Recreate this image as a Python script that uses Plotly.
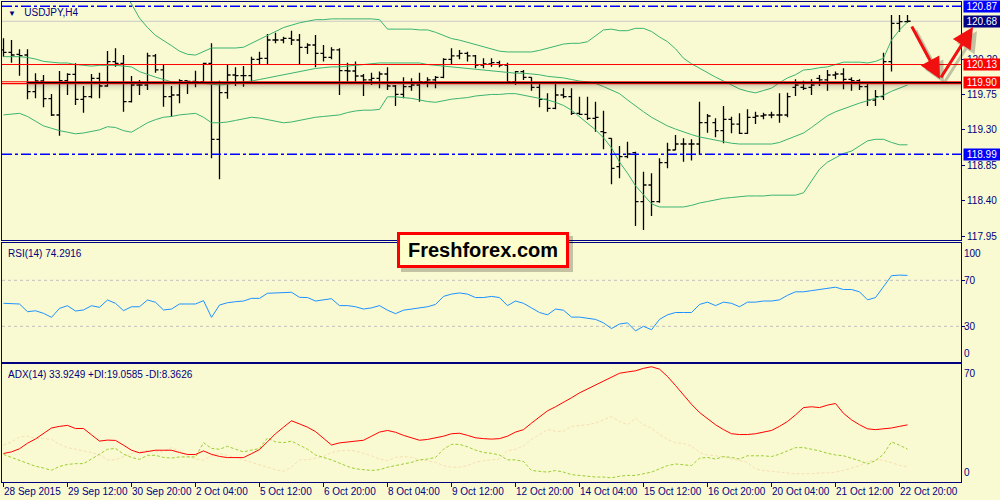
import plotly.graph_objects as go

# ---------------- data ----------------
time_labels = ["28 Sep 2015", "29 Sep 12:00", "30 Sep 20:00", "2 Oct 04:00", "5 Oct 12:00",
               "6 Oct 20:00", "8 Oct 04:00", "9 Oct 12:00", "12 Oct 20:00", "14 Oct 04:00",
               "15 Oct 12:00", "16 Oct 20:00", "20 Oct 04:00", "21 Oct 12:00", "22 Oct 20:00"]
label_bars = [0, 8, 16, 24, 32, 40, 48, 56, 64, 72, 80, 88, 96, 104, 112]

open_ = [120.315, 120.285, 120.260, 120.251, 119.785, 119.921, 119.696, 119.489, 119.925, 120.006,
         119.688, 119.722, 119.955, 119.857, 120.167, 120.145, 119.658, 119.870, 119.870, 120.239,
         120.061, 119.722, 119.743, 119.925, 119.917, 119.912, 120.145, 119.180, 119.773, 119.997,
         119.989, 119.989, 120.196, 120.209, 120.442, 120.442, 120.463, 120.442, 120.349, 120.378,
         120.272, 120.222, 120.315, 120.052, 120.048, 119.984, 119.934, 119.955, 120.010, 119.857,
         119.752, 119.849, 119.870, 119.912, 119.934, 119.968, 120.196, 120.239, 120.272, 120.239,
         120.124, 120.137, 120.154, 120.124, 119.912, 120.040, 119.968, 119.840, 119.688, 119.574,
         119.743, 119.722, 119.510, 119.497, 119.447, 119.277, 119.192, 118.832, 118.959, 119.010,
         118.388, 118.599, 118.388, 118.883, 119.044, 119.120, 119.120, 119.120, 119.391, 119.391,
         119.290, 119.434, 119.374, 119.256, 119.459, 119.476, 119.489, 119.489, 119.489, 119.840,
         119.840, 119.840, 119.955, 119.934, 119.997, 120.010, 119.942, 119.925, 119.849, 119.679,
         119.722, 120.167, 120.654, 120.675]
high = [120.463, 120.442, 120.323, 120.323, 120.018, 119.997, 119.756, 120.048, 120.018, 120.145,
        119.857, 120.010, 120.027, 120.302, 120.336, 120.251, 119.984, 119.934, 120.281, 120.264,
        120.133, 119.857, 119.942, 119.925, 120.052, 120.154, 120.400, 119.925, 120.124, 120.095,
        120.112, 120.230, 120.294, 120.518, 120.535, 120.484, 120.560, 120.518, 120.400, 120.505,
        120.378, 120.349, 120.336, 120.154, 120.167, 120.010, 120.027, 120.040, 120.095, 119.870,
        119.968, 119.955, 120.027, 119.968, 119.984, 120.209, 120.336, 120.315, 120.294, 120.251,
        120.209, 120.209, 120.179, 120.154, 120.048, 120.061, 119.968, 119.883, 119.764, 119.912,
        119.828, 119.828, 119.722, 119.722, 119.658, 119.544, 119.192, 119.095, 119.150, 119.023,
        118.769, 118.748, 118.938, 119.137, 119.235, 119.192, 119.180, 119.658, 119.502, 119.447,
        119.603, 119.468, 119.510, 119.561, 119.531, 119.518, 119.531, 119.764, 119.773, 119.942,
        119.925, 119.942, 119.997, 120.061, 120.040, 120.082, 119.968, 119.942, 119.891, 119.807,
        120.281, 120.759, 120.759, 120.759]
low = [120.230, 120.154, 119.989, 119.688, 119.701, 119.586, 119.476, 119.226, 119.743, 119.616,
       119.518, 119.701, 119.701, 119.849, 120.103, 119.531, 119.646, 119.743, 119.807, 120.027,
       119.595, 119.468, 119.637, 119.756, 119.840, 119.912, 118.938, 118.671, 119.696, 119.857,
       119.849, 119.904, 120.137, 120.133, 120.400, 120.400, 120.378, 120.124, 120.264, 120.095,
       120.167, 120.196, 119.743, 119.912, 119.912, 119.730, 119.870, 119.828, 119.807, 119.603,
       119.701, 119.798, 119.658, 119.840, 119.828, 119.955, 120.124, 120.196, 120.167, 120.082,
       120.082, 120.103, 120.095, 119.883, 119.870, 119.934, 119.798, 119.586, 119.531, 119.561,
       119.701, 119.489, 119.489, 119.425, 119.277, 119.053, 118.608, 118.684, 118.938, 118.078,
       118.028, 118.206, 118.375, 118.811, 119.044, 118.896, 118.909, 118.981, 119.264, 119.205,
       119.129, 119.256, 119.247, 119.247, 119.374, 119.434, 119.447, 119.391, 119.459, 119.730,
       119.807, 119.743, 119.857, 119.798, 119.942, 119.815, 119.798, 119.807, 119.603, 119.603,
       119.679, 120.040, 120.548, 120.662]
close = [120.285, 120.251, 120.243, 119.785, 119.921, 119.696, 119.489, 119.925, 120.006, 119.688,
         119.722, 119.955, 119.857, 120.167, 120.145, 119.658, 119.870, 119.870, 120.239, 120.061,
         119.722, 119.743, 119.925, 119.917, 119.912, 120.145, 119.180, 119.773, 119.997, 119.989,
         119.989, 120.196, 120.209, 120.442, 120.442, 120.463, 120.442, 120.349, 120.378, 120.272,
         120.222, 120.315, 120.052, 120.048, 119.984, 119.934, 119.955, 120.010, 119.857, 119.752,
         119.849, 119.870, 119.912, 119.934, 119.968, 120.196, 120.239, 120.272, 120.239, 120.124,
         120.137, 120.154, 120.124, 119.912, 120.040, 119.968, 119.840, 119.688, 119.574, 119.743,
         119.722, 119.510, 119.497, 119.447, 119.459, 119.264, 118.811, 118.959, 118.993, 118.388,
         118.599, 118.388, 118.883, 119.044, 119.120, 119.120, 119.120, 119.391, 119.476, 119.290,
         119.434, 119.374, 119.256, 119.459, 119.476, 119.489, 119.489, 119.489, 119.722, 119.870,
         119.828, 119.870, 119.934, 119.997, 120.010, 119.942, 119.925, 119.849, 119.679, 119.722,
         120.167, 120.654, 120.675, 120.680]

bb_upper = [None] * 14 + [
    121.20, 121.05, 120.90, 120.72, 120.60, 120.50, 120.44, 120.37, 120.30, 120.26,
    120.25, 120.30, 120.34, 120.34, 120.34, 120.34, 120.35, 120.40, 120.46, 120.50,
    120.55, 120.60, 120.63, 120.66, 120.68, 120.70, 120.70, 120.71, 120.71, 120.71,
    120.71, 120.71, 120.71, 120.70, 120.58, 120.58, 120.58, 120.58, 120.57, 120.57,
    120.54, 120.50, 120.46, 120.44, 120.41, 120.38, 120.35, 120.32, 120.30, 120.29,
    120.29, 120.29, 120.29, 120.31, 120.34, 120.37, 120.39, 120.40, 120.40, 120.42,
    120.50, 120.57, 120.58, 120.56, 120.56, 120.59, 120.59, 120.55, 120.48, 120.42,
    120.33, 120.21, 120.14, 120.08, 120.03, 119.97, 119.92, 119.87, 119.82, 119.79,
    119.77, 119.80, 119.83, 119.90, 119.96, 120.00, 120.06, 120.07, 120.09, 120.10,
    120.13, 120.16, 120.16, 120.16, 120.15, 120.17, 120.21, 120.44, 120.57, 120.67]
bb_mid = [120.23, 120.23, 120.23, 120.22, 120.20, 120.17, 120.16, 120.15, 120.15, 120.13,
          120.12, 120.11, 120.12, 120.12, 120.12, 120.11, 120.10, 120.04, 120.00, 119.97,
          119.94, 119.91, 119.90, 119.90, 119.90, 119.89, 119.88, 119.87, 119.88, 119.90,
          119.91, 119.92, 119.94, 119.96, 119.98, 120.00, 120.02, 120.04, 120.06, 120.08,
          120.09, 120.10, 120.10, 120.11, 120.12, 120.13, 120.14, 120.15, 120.15, 120.15,
          120.15, 120.15, 120.15, 120.13, 120.12, 120.11, 120.10, 120.09, 120.08, 120.07,
          120.06, 120.05, 120.04, 120.03, 120.02, 120.02, 120.01, 120.00, 119.98, 119.97,
          119.96, 119.94, 119.92, 119.91, 119.89, 119.85, 119.80, 119.76, 119.68, 119.60,
          119.53, 119.46, 119.40, 119.35, 119.31, 119.27, 119.24, 119.21, 119.19, 119.17,
          119.15, 119.13, 119.12, 119.12, 119.12, 119.12, 119.12, 119.14, 119.18, 119.22,
          119.26, 119.33, 119.41, 119.48, 119.53, 119.57, 119.61, 119.64, 119.67, 119.70,
          119.74, 119.79, 119.83, 119.87]
bb_lower = [119.49, 119.50, 119.51, 119.47, 119.41, 119.35, 119.32, 119.29, 119.27, 119.25,
            119.26, 119.28, 119.30, 119.34, 119.33, 119.29, 119.27, 119.33, 119.39, 119.43,
            119.46, 119.47, 119.49, 119.50, 119.51, 119.46, 119.39, 119.39, 119.40, 119.42,
            119.44, 119.46, 119.45, 119.43, 119.41, 119.39, 119.40, 119.42, 119.44, 119.46,
            119.47, 119.48, 119.49, 119.52, 119.54, 119.55, 119.55, 119.56, 119.72, 119.72,
            119.71, 119.70, 119.68, 119.66, 119.65, 119.67, 119.69, 119.70, 119.71, 119.73,
            119.74, 119.75, 119.75, 119.76, 119.76, 119.74, 119.72, 119.70, 119.68, 119.65,
            119.61, 119.55, 119.47, 119.39, 119.30, 119.20, 119.07, 118.89, 118.75, 118.59,
            118.48, 118.36, 118.32, 118.32, 118.32, 118.32, 118.34, 118.37, 118.39, 118.41,
            118.43, 118.44, 118.45, 118.46, 118.46, 118.46, 118.47, 118.47, 118.47, 118.47,
            118.50, 118.65, 118.80, 118.89, 118.95, 119.00, 119.03, 119.10, 119.16, 119.18,
            119.18, 119.14, 119.11, 119.11]

rsi = [50.0, 50.0, 49.4, 42.7, 43.5, 41.3, 37.8, 45.6, 47.9, 43.3,
       44.2, 47.9, 46.5, 52.9, 50.0, 43.6, 47.0, 47.0, 52.9, 50.9,
       44.2, 45.0, 49.4, 49.4, 49.4, 52.3, 37.8, 48.5, 50.5, 51.4,
       52.0, 54.3, 54.3, 58.7, 58.9, 59.2, 59.6, 55.2, 55.0, 52.0,
       53.0, 54.0, 48.0, 48.0, 47.0, 45.0, 46.0, 48.0, 44.0, 41.0,
       44.0, 45.0, 46.0, 47.0, 49.0, 56.0, 58.0, 59.0, 58.0, 55.0,
       55.0, 56.0, 55.0, 48.0, 52.0, 50.0, 46.0, 42.0, 40.0, 45.0,
       44.0, 38.0, 38.0, 37.0, 36.0, 33.0, 28.0, 32.0, 33.0, 26.0,
       30.0, 27.0, 36.0, 40.0, 42.0, 42.0, 42.0, 49.0, 51.0, 48.0,
       51.0, 50.0, 47.0, 51.0, 51.0, 52.0, 52.0, 53.0, 57.0, 60.0,
       60.0, 61.0, 62.0, 63.0, 64.0, 62.0, 62.0, 60.0, 53.0, 55.0,
       65.0, 74.0, 74.5, 74.2916]

adx = [16.4, 17.4, 19.3, 22.7, 25.3, 28.7, 32.0, 33.0, 33.6, 31.7,
       31.7, 27.8, 24.0, 24.6, 24.4, 21.5, 18.4, 16.8, 17.7, 18.4,
       18.4, 18.4, 17.0, 15.8, 15.8, 18.0, 15.9, 14.6, 13.9, 13.9,
       13.9, 16.3, 18.8, 23.6, 28.5, 32.5, 36.4, 34.5, 32.5, 29.8,
       25.5, 21.6, 22.9, 23.5, 24.0, 24.5, 27.0, 29.5, 30.5, 29.4,
       27.5, 26.0, 24.5, 25.0, 25.8, 27.0, 28.5, 28.8, 27.5, 26.0,
       25.5, 25.2, 25.5, 27.0, 29.5, 31.0, 35.0, 39.0, 42.5, 45.0,
       47.5, 50.5, 53.5, 56.0, 58.5, 61.0, 63.5, 65.5, 66.3, 67.0,
       68.5, 69.5, 68.0, 63.5, 58.0, 52.0, 46.5, 41.5, 37.5, 34.0,
       31.0, 28.5, 28.0, 28.0, 28.5, 29.5, 30.5, 33.0, 36.0, 40.0,
       44.5, 45.0, 44.5, 46.0, 47.0, 41.0, 37.0, 34.0, 31.5, 31.0,
       31.5, 32.0, 33.0, 33.9249]
plus_di = [15.8, 14.0, 12.0, 10.2, 8.6, 7.5, 6.1, 8.5, 9.7, 10.2,
           10.2, 13.0, 16.0, 19.0, 19.5, 16.0, 14.0, 12.8, 15.3, 15.3,
           14.0, 13.6, 14.3, 14.3, 14.3, 23.0, 19.5, 19.0, 20.8, 19.0,
           17.4, 18.5, 19.4, 26.0, 23.5, 23.0, 24.0, 21.5, 19.0, 15.5,
           14.0, 12.5, 10.5, 8.5, 7.0, 6.5, 6.0, 6.5, 8.0, 9.0,
           10.0, 11.0, 12.5, 13.0, 14.0, 19.0, 22.0, 22.0, 20.5, 18.5,
           17.0, 16.5, 15.5, 12.5, 12.5, 11.5, 6.0, 5.5, 5.0, 6.0,
           5.0, 3.5, 3.0, 2.5, 2.0, 2.0, 1.5, 2.5, 3.0, 3.0,
           4.0, 5.0, 7.0, 9.0, 10.0, 9.5, 9.0, 13.5, 14.0, 13.0,
           14.5, 14.0, 13.0, 15.0, 15.0, 15.0, 14.5, 16.0, 18.0, 20.0,
           20.0, 19.0, 18.0, 16.5, 15.5, 15.0, 13.5, 12.0, 10.0, 12.0,
           16.0, 23.5, 21.5, 19.0585]
minus_di = [21.5, 23.5, 26.5, 27.0, 25.6, 25.6, 25.0, 22.0, 20.0, 19.0,
            18.4, 17.0, 15.5, 12.5, 12.5, 14.3, 16.4, 17.5, 18.4, 17.5,
            17.4, 20.0, 18.0, 15.0, 13.0, 12.3, 15.0, 16.4, 15.3, 14.0,
            12.5, 11.0, 9.5, 8.2, 6.5, 5.5, 8.0, 12.5, 12.5, 13.5,
            14.5, 17.0, 18.0, 18.4, 18.0, 16.5, 15.0, 13.0, 12.0, 14.0,
            14.5, 14.0, 12.5, 12.0, 11.0, 9.0, 8.0, 8.0, 9.0, 11.0,
            12.0, 12.5, 13.0, 18.0, 19.0, 21.0, 25.0, 28.0, 31.0, 30.0,
            30.0, 33.0, 33.5, 34.0, 35.0, 37.0, 39.0, 36.0, 34.0, 38.0,
            34.0, 32.0, 28.0, 25.0, 23.0, 22.5, 21.0, 17.0, 15.5, 15.0,
            14.5, 13.0, 12.0, 11.0, 7.0, 6.0, 5.5, 5.0, 4.5, 4.0,
            4.0, 4.0, 4.5, 4.5, 5.0, 6.0, 7.5, 9.0, 11.5, 12.5,
            12.3, 10.6, 9.2, 8.3626]

price_ticks = [117.95, 118.40, 118.85, 119.30, 119.75, 120.20]
bid_price = 120.68
resistance_hi = 120.87
support_lo = 118.99
red_level_1 = 120.13
red_level_2 = 119.90
rsi_levels = [30, 70]

# ---------------- style / geometry ----------------
BG = "#FAFAD2"
NAVY = "#000080"
FONT = "Liberation Sans"
W, H = 1000, 500
ML, MR, MT, MB = 2, 39, 2, 18
PW, PH = W - ML - MR, H - MT - MB


def py(p):  # pixel row -> paper y
    return (H - MB - p) / PH


def px(p):  # pixel column -> paper x
    return (p - ML) / PW


n = len(close)
xs = list(range(n))
x_range = [-0.1875, 119.6875]
main_rng = [117.9004, 120.9246]
rsi_rng = [-0.78, 102.17]
adx_rng = [-1.04, 70.98]

fig = go.Figure()
green = "#3CB371"
for band in (bb_upper, bb_mid, bb_lower):
    fig.add_trace(go.Scatter(x=xs, y=band, mode="lines", line=dict(color=green, width=1),
                             hoverinfo="skip", xaxis="x", yaxis="y"))

fig.add_trace(go.Ohlc(x=xs, open=open_, high=high, low=low, close=close,
                      increasing=dict(line=dict(color="black", width=1.3)),
                      decreasing=dict(line=dict(color="black", width=1.3)),
                      tickwidth=0.38, hoverinfo="skip", xaxis="x", yaxis="y"))

fig.add_trace(go.Scatter(x=xs, y=rsi, mode="lines", line=dict(color="#1E90FF", width=1),
                         hoverinfo="skip", xaxis="x2", yaxis="y2"))

fig.add_trace(go.Scatter(x=xs, y=minus_di, mode="lines",
                         line=dict(color="#F5DEB3", width=1, dash="3px,2px"),
                         hoverinfo="skip", xaxis="x3", yaxis="y3"))
fig.add_trace(go.Scatter(x=xs, y=plus_di, mode="lines",
                         line=dict(color="#9ACD32", width=1, dash="3px,2px"),
                         hoverinfo="skip", xaxis="x3", yaxis="y3"))
fig.add_trace(go.Scatter(x=xs, y=adx, mode="lines", line=dict(color="#FF0000", width=1),
                         hoverinfo="skip", xaxis="x3", yaxis="y3"))

base_x = dict(range=x_range, showgrid=False, zeroline=False, showline=True, linecolor=NAVY,
              linewidth=1, mirror=True, showticklabels=False, ticks="", fixedrange=True)
base_y = dict(showgrid=False, zeroline=False, showline=True, linecolor=NAVY, linewidth=1,
              mirror=True, side="right", fixedrange=True)

d_main = [py(240), 1.0]
d_rsi = [py(361.7), py(243.3)]
d_adx = [0.0, py(364.3)]

fig.update_layout(
    width=W, height=H, margin=dict(l=ML, r=MR, t=MT, b=MB),
    paper_bgcolor=BG, plot_bgcolor=BG, showlegend=False,
    xaxis=dict(base_x, anchor="y", rangeslider=dict(visible=False)),
    xaxis2=dict(base_x, anchor="y2"),
    xaxis3=dict(base_x, anchor="y3", ticks="outside", ticklen=4, tickcolor=NAVY,
                tickvals=label_bars),
    yaxis=dict(base_y, domain=d_main, range=main_rng, anchor="x",
               tickvals=price_ticks, ticktext=[f"{v:.2f}" for v in price_ticks],
               ticks="outside", ticklen=3, tickcolor=NAVY,
               tickfont=dict(family=FONT, size=10, color=NAVY)),
    yaxis2=dict(base_y, domain=d_rsi, range=rsi_rng, anchor="x2", showticklabels=False,
                tickvals=rsi_levels, ticks="outside", ticklen=3, tickcolor=NAVY),
    yaxis3=dict(base_y, domain=d_adx, range=adx_rng, anchor="x3", showticklabels=False),
)

shapes = []
dashdot = "10px,3px,3px,3px"
for lvl in (resistance_hi, support_lo):
    shapes.append(dict(type="line", xref="paper", yref="y", x0=0, x1=1, y0=lvl, y1=lvl,
                       line=dict(color="#0000FF", width=1.5, dash=dashdot), layer="above"))
shapes.append(dict(type="line", xref="paper", yref="y", x0=0, x1=1, y0=bid_price, y1=bid_price,
                   line=dict(color="#C8C8C8", width=1), layer="below"))
shapes.append(dict(type="line", xref="paper", yref="y", x0=0, x1=1, y0=red_level_1, y1=red_level_1,
                   line=dict(color="#FF0000", width=1), layer="above"))
# shadow below the 119.90 line
ppx = (main_rng[1] - main_rng[0]) / 238.0
for k, a in [(2, 0.22), (3, 0.18), (4, 0.14), (5, 0.10), (6, 0.07), (7, 0.04), (8, 0.02)]:
    shapes.append(dict(type="line", xref="x", yref="y", x0=2.9, x1=x_range[1],
                       y0=red_level_2 - k * ppx, y1=red_level_2 - k * ppx,
                       line=dict(color=f"rgba(60,60,60,{a})", width=1), layer="above"))
for off in (0.9, -0.9):
    shapes.append(dict(type="line", xref="paper", yref="y", x0=0, x1=1,
                       y0=red_level_2 + off * ppx, y1=red_level_2 + off * ppx,
                       line=dict(color="#FF0000", width=1.2), layer="above"))
shapes.append(dict(type="line", xref="x", yref="y", x0=2.9, x1=x_range[1],
                   y0=red_level_2, y1=red_level_2,
                   line=dict(color="#000000", width=1.2), layer="above"))
for lvl in rsi_levels:
    shapes.append(dict(type="line", xref="paper", yref="y2", x0=0, x1=1, y0=lvl, y1=lvl,
                       line=dict(color="#C0C0C0", width=1, dash="3px,3px"), layer="below"))
# logo shadow
lx0, lx1, ly0, ly1 = 397, 569, 232, 268
shapes.append(dict(type="rect", xref="paper", yref="paper",
                   x0=px(lx0 + 4), x1=px(lx1 + 4), y0=py(ly1 + 4), y1=py(ly0 + 4),
                   fillcolor="rgba(0,0,0,0.22)", line=dict(width=0), layer="above"))
fig.update_layout(shapes=shapes)

ann = []
f10 = dict(family=FONT, size=10, color=NAVY)
ann.append(dict(xref="paper", yref="paper", x=0, y=1, xanchor="left", yanchor="top",
                xshift=4, yshift=-3, showarrow=False,
                text="<span style='font-size:8px'>▼</span>&#160;&#160;&#160;USDJPY,H4", font=f10))
ann.append(dict(xref="paper", yref="paper", x=0, y=d_rsi[1], xanchor="left", yanchor="top",
                xshift=4, yshift=-3, showarrow=False, text="RSI(14) 74.2916", font=f10))
ann.append(dict(xref="paper", yref="paper", x=0, y=d_adx[1], xanchor="left", yanchor="top",
                xshift=4, yshift=-3, showarrow=False,
                text="ADX(14) 33.9249 +DI:19.0585 -DI:8.3626", font=f10))

# price level boxes
for lvl, bg in [(resistance_hi, "#0000FF"), (bid_price, "#000080"), (red_level_1, "#FF0000"),
                (red_level_2, "#FF0000"), (support_lo, "#0000FF")]:
    ann.append(dict(xref="paper", yref="y", x=1, y=lvl, xanchor="left", yanchor="middle",
                    xshift=2, showarrow=False, text=f"{lvl:.2f}", width=36, height=11,
                    borderpad=0, bgcolor=bg, font=dict(family=FONT, size=10, color="white")))

# RSI scale labels
ann.append(dict(xref="paper", yref="y2", x=1, y=100, xanchor="left", yanchor="top", xshift=1,
                showarrow=False, text="100", font=f10))
for lvl in rsi_levels:
    ann.append(dict(xref="paper", yref="y2", x=1, y=lvl, xanchor="left", yanchor="middle",
                    xshift=1, showarrow=False, text=str(lvl), font=f10))
ann.append(dict(xref="paper", yref="y2", x=1, y=0, xanchor="left", yanchor="bottom", xshift=1,
                showarrow=False, text="0", font=f10))
# ADX scale labels
ann.append(dict(xref="paper", yref="y3", x=1, y=70, xanchor="left", yanchor="top", xshift=1,
                showarrow=False, text="70", font=f10))
ann.append(dict(xref="paper", yref="y3", x=1, y=0, xanchor="left", yanchor="bottom", xshift=1,
                showarrow=False, text="0", font=f10))

# date labels
for b, t in zip(label_bars, time_labels):
    ann.append(dict(xref="x3", yref="paper", x=b, y=0, xanchor="left", yanchor="top",
                    xshift=-2, yshift=-2, showarrow=False, text=t, font=f10))

# arrows (shadow first)
arrows = [((940, 79), (-29, -54)), ((973, 27), (-33, 52))]
for (hx, hy), (dx, dy) in arrows:
    ann.append(dict(xref="paper", yref="paper", x=px(hx), y=py(hy), ax=dx, ay=dy, text="",
                    showarrow=True, arrowhead=2, arrowsize=1.4, arrowwidth=3,
                    arrowcolor="rgba(0,0,0,0.22)", xshift=4, yshift=-4, standoff=0))
for (hx, hy), (dx, dy) in arrows:
    ann.append(dict(xref="paper", yref="paper", x=px(hx), y=py(hy), ax=dx, ay=dy, text="",
                    showarrow=True, arrowhead=2, arrowsize=1.4, arrowwidth=3,
                    arrowcolor="#F01010", standoff=0))

# logo
ann.append(dict(xref="paper", yref="paper", x=px((lx0 + lx1) / 2), y=py((ly0 + ly1) / 2),
                xanchor="center", yanchor="middle", showarrow=False,
                text="<b>Freshforex.com</b>", width=lx1 - lx0 - 6, height=ly1 - ly0 - 6,
                borderpad=0, borderwidth=3, bordercolor="#FF0000", bgcolor="#FFFFCC",
                font=dict(family=FONT, size=20, color="#000000")))
fig.update_layout(annotations=ann)

fig.write_html("out.html", config={"displayModeBar": False, "staticPlot": True},
               post_script="document.body.style.margin='0';document.body.style.padding='0';"
                           "document.body.style.background='" + BG + "';")
